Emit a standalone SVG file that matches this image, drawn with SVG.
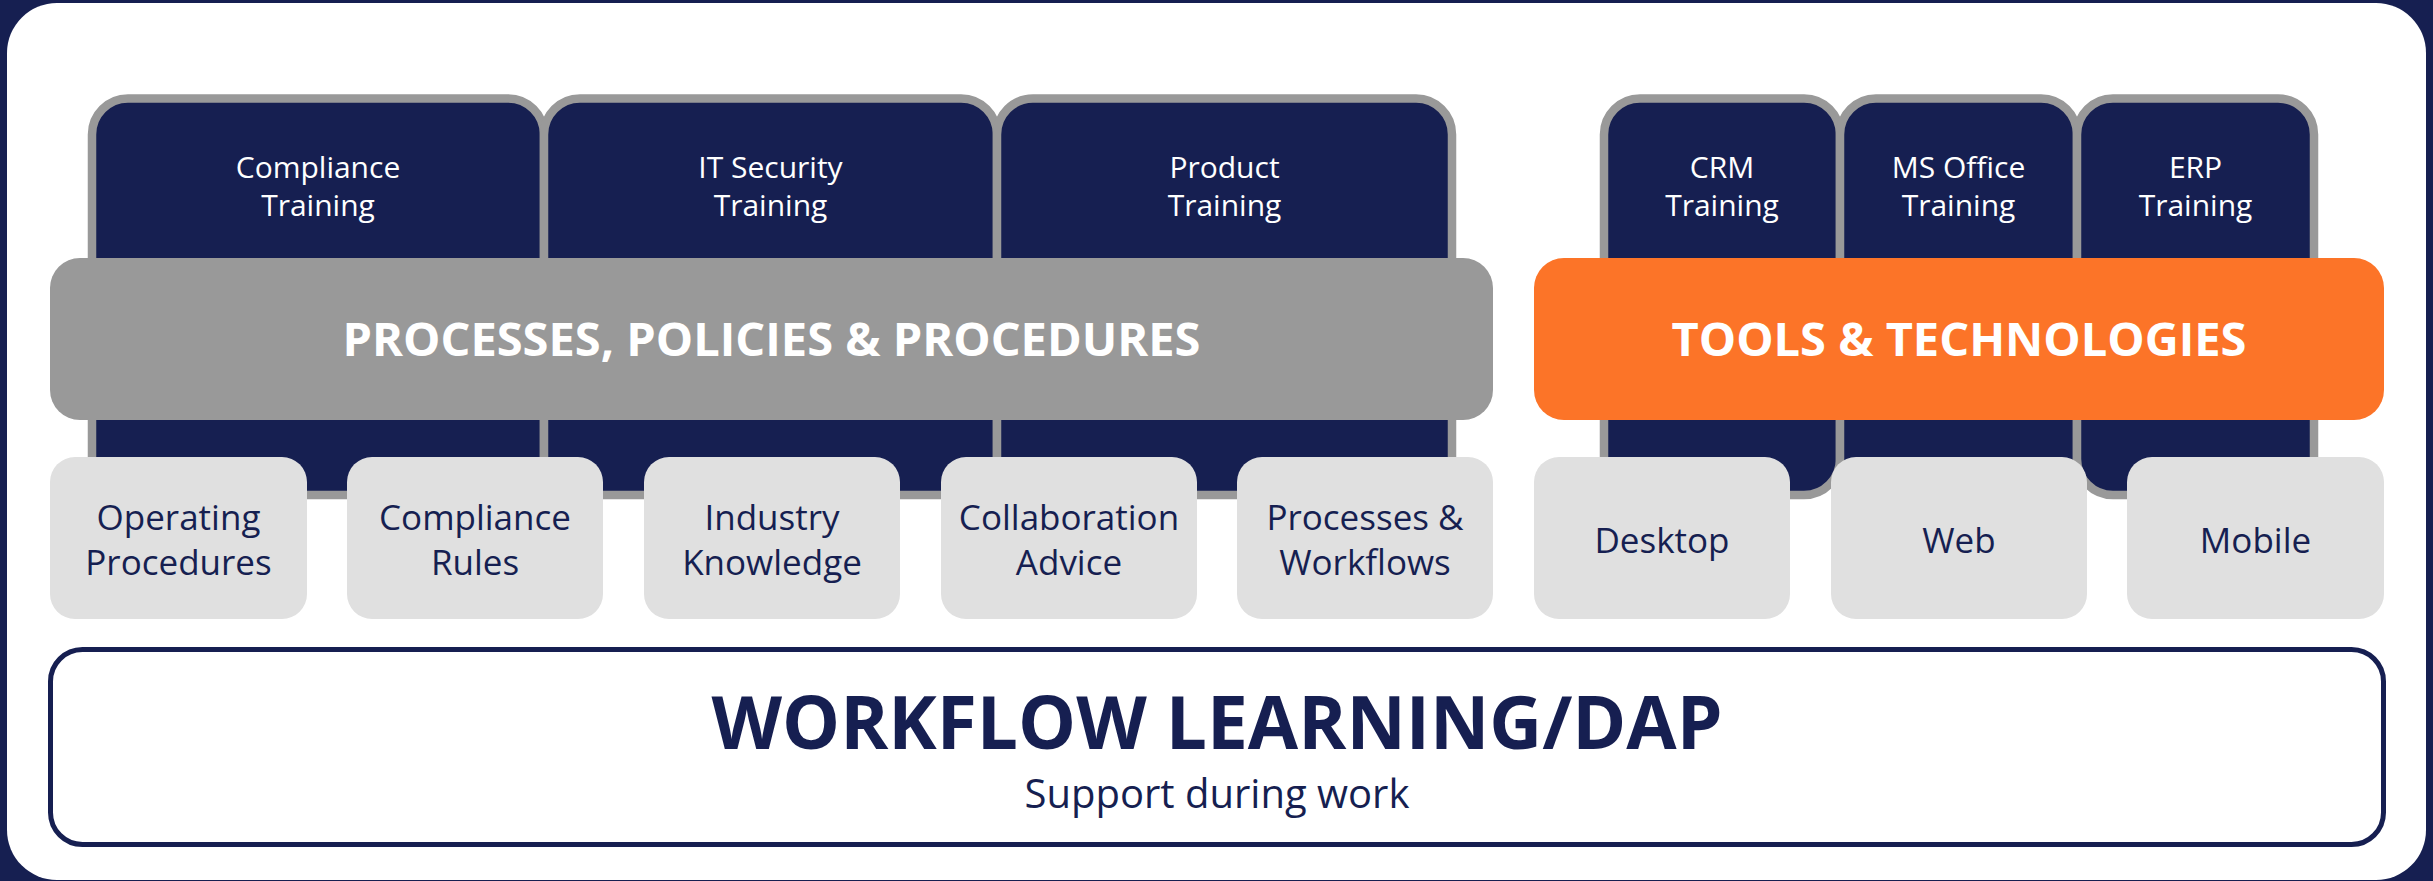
<svg xmlns="http://www.w3.org/2000/svg" width="2433" height="881" viewBox="0 0 2433 881">
<style>
.col{fill:#161F51;stroke:#999999;stroke-width:8.5}
.bar-gray{fill:#999999}
.bar-orange{fill:#FC7428}
.box{fill:#E0E0E0}
.t-col{font-family:"Open Sans","Noto Sans",sans-serif;font-size:30px;fill:#FFFFFF;text-anchor:middle}
.t-bar{font-family:"Open Sans","Noto Sans",sans-serif;font-size:47px;font-weight:700;fill:#FFFFFF;text-anchor:middle}
.t-box{font-family:"Open Sans","Noto Sans",sans-serif;font-size:35px;fill:#161F51;text-anchor:middle}
.t-main{font-family:"Open Sans","Noto Sans",sans-serif;font-size:73px;font-weight:700;fill:#161F51;text-anchor:middle}
.t-sub{font-family:"Open Sans","Noto Sans",sans-serif;font-size:40px;fill:#161F51;text-anchor:middle}
</style>
<rect x="0" y="0" width="2433" height="881" fill="#161F51"/>
<rect x="7" y="3" width="2419" height="877" rx="50" ry="50" fill="#FFFFFF"/>

<g id="col-compliance-training">
<rect class="col" x="92" y="98.5" width="452" height="396.5" rx="36"/>
<text class="t-col" x="318" y="178">Compliance</text>
<text class="t-col" x="318" y="216">Training</text>
</g>
<g id="col-it-security-training">
<rect class="col" x="544" y="98.5" width="453" height="396.5" rx="36"/>
<text class="t-col" x="770.5" y="178">IT Security</text>
<text class="t-col" x="770.5" y="216">Training</text>
</g>
<g id="col-product-training">
<rect class="col" x="997" y="98.5" width="455" height="396.5" rx="36"/>
<text class="t-col" x="1224.5" y="178">Product</text>
<text class="t-col" x="1224.5" y="216">Training</text>
</g>
<g id="col-crm-training">
<rect class="col" x="1604" y="98.5" width="236" height="396.5" rx="36"/>
<text class="t-col" x="1722" y="178">CRM</text>
<text class="t-col" x="1722" y="216">Training</text>
</g>
<g id="col-ms-office-training">
<rect class="col" x="1840" y="98.5" width="237" height="396.5" rx="36"/>
<text class="t-col" x="1958.5" y="178">MS Office</text>
<text class="t-col" x="1958.5" y="216">Training</text>
</g>
<g id="col-erp-training">
<rect class="col" x="2077" y="98.5" width="237" height="396.5" rx="36"/>
<text class="t-col" x="2195.5" y="178">ERP</text>
<text class="t-col" x="2195.5" y="216">Training</text>
</g>

<g id="bar-processes">
<rect class="bar-gray" x="50" y="258" width="1443" height="162" rx="30"/>
<text class="t-bar" x="771.5" y="356">PROCESSES, POLICIES &amp; PROCEDURES</text>
</g>
<g id="bar-tools">
<rect class="bar-orange" x="1534" y="258" width="850" height="162" rx="30"/>
<text class="t-bar" x="1959" y="356">TOOLS &amp; TECHNOLOGIES</text>
</g>

<g id="box-operating-procedures">
<rect class="box" x="50" y="457" width="257" height="162" rx="25"/>
<text class="t-box" x="178.5" y="530">Operating</text>
<text class="t-box" x="178.5" y="575">Procedures</text>
</g>
<g id="box-compliance-rules">
<rect class="box" x="347" y="457" width="256" height="162" rx="25"/>
<text class="t-box" x="475" y="530">Compliance</text>
<text class="t-box" x="475" y="575">Rules</text>
</g>
<g id="box-industry-knowledge">
<rect class="box" x="644" y="457" width="256" height="162" rx="25"/>
<text class="t-box" x="772" y="530">Industry</text>
<text class="t-box" x="772" y="575">Knowledge</text>
</g>
<g id="box-collaboration-advice">
<rect class="box" x="941" y="457" width="256" height="162" rx="25"/>
<text class="t-box" x="1069" y="530">Collaboration</text>
<text class="t-box" x="1069" y="575">Advice</text>
</g>
<g id="box-processes-workflows">
<rect class="box" x="1237" y="457" width="256" height="162" rx="25"/>
<text class="t-box" x="1365" y="530">Processes &amp;</text>
<text class="t-box" x="1365" y="575">Workflows</text>
</g>
<g id="box-desktop">
<rect class="box" x="1534" y="457" width="256" height="162" rx="25"/>
<text class="t-box" x="1662" y="553">Desktop</text>
</g>
<g id="box-web">
<rect class="box" x="1831" y="457" width="256" height="162" rx="25"/>
<text class="t-box" x="1959" y="553">Web</text>
</g>
<g id="box-mobile">
<rect class="box" x="2127" y="457" width="257" height="162" rx="25"/>
<text class="t-box" x="2255.5" y="553">Mobile</text>
</g>

<g id="box-workflow-learning">
<rect x="50.5" y="649.5" width="2333" height="195" rx="32" fill="#FFFFFF" stroke="#161F51" stroke-width="5"/>
<text class="t-main" x="1217" y="749">WORKFLOW LEARNING/DAP</text>
<text class="t-sub" x="1217" y="808">Support during work</text>
</g>

<g id="connectors"></g>
</svg>
